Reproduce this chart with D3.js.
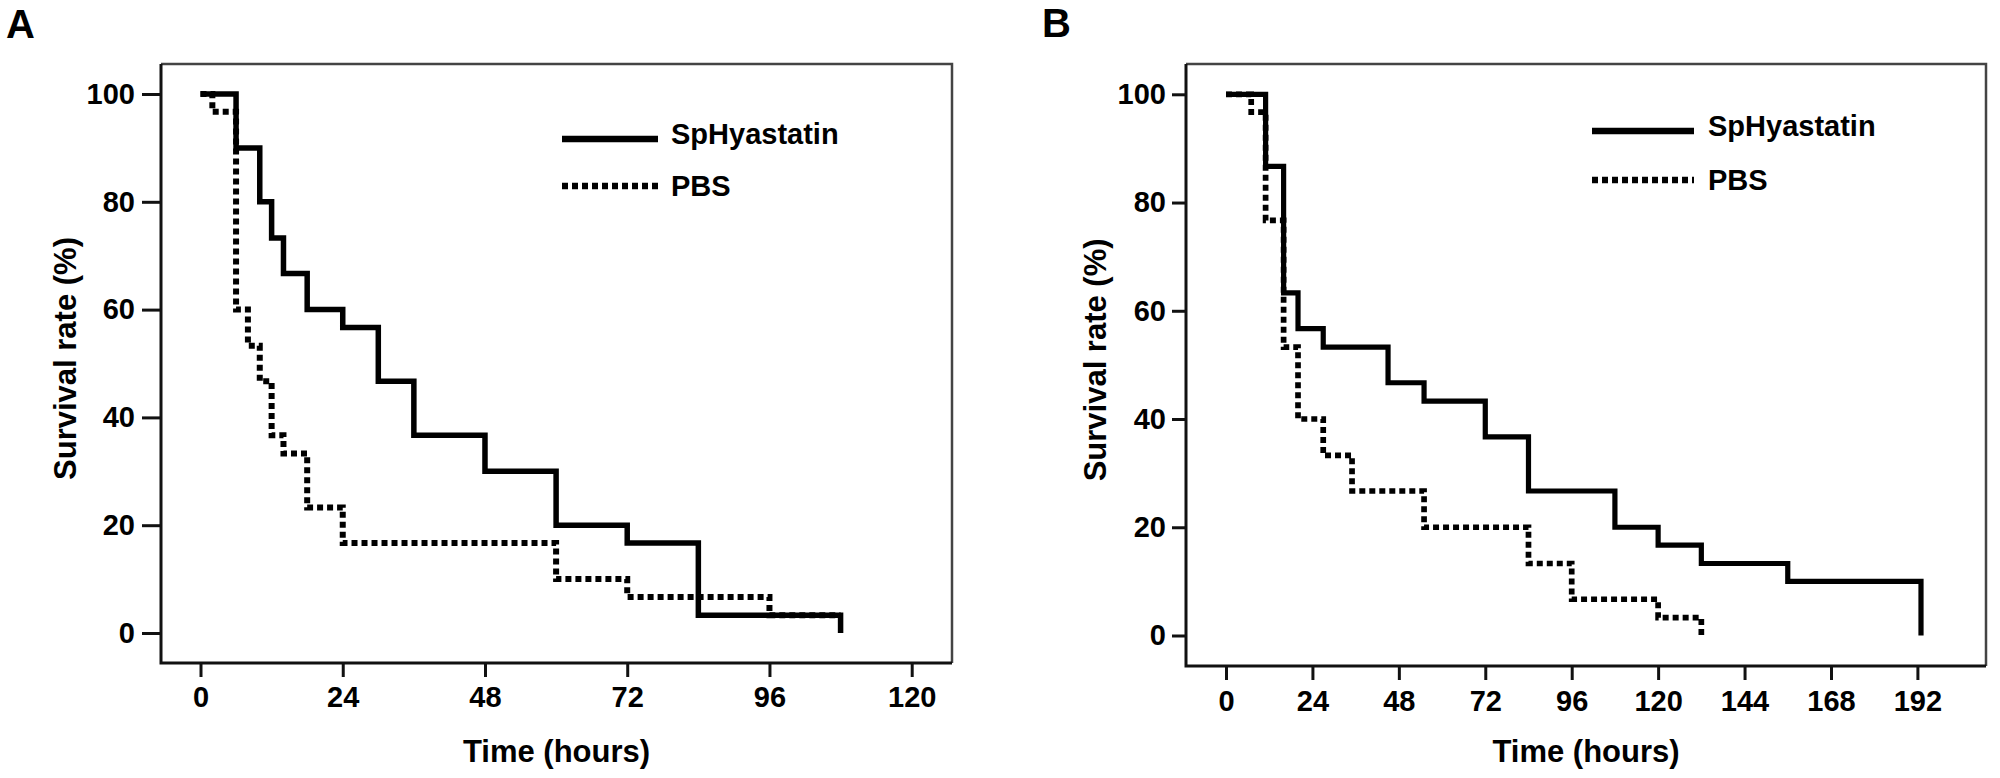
<!DOCTYPE html>
<html>
<head>
<meta charset="utf-8">
<script src="https://cdn.jsdelivr.net/npm/d3@7"></script>
<style>
body { margin: 0; background: #fff; }
text { font-family: "Liberation Sans", Arial, sans-serif; font-weight: bold; fill: #000; }
</style>
</head>
<body>
<svg id="chart" width="2000" height="778"></svg>
<script>
// panel A data (hours, % surviving)
var spTimeA = [0, 6, 10, 12, 14, 18, 24, 30, 36, 48, 60, 72, 84, 108];
var spSurvA = [100, 90, 80, 73.3, 66.7, 60, 56.7, 46.7, 36.7, 30, 20, 16.7, 3.3, 0];
var pbsTimeA = [0, 2, 6, 8, 10, 12, 14, 18, 24, 60, 72, 96, 108];
var pbsSurvA = [100, 96.7, 60, 53.3, 46.7, 36.7, 33.3, 23.3, 16.7, 10, 6.7, 3.3, 3.3];

// panel B data
var spTimeB = [0, 11, 16, 20, 27, 45, 55, 72, 84, 108, 120, 132, 156, 193];
var spSurvB = [100, 86.7, 63.3, 56.7, 53.3, 46.7, 43.3, 36.7, 26.7, 20, 16.7, 13.3, 10, 0];
var pbsTimeB = [0, 7, 11, 16, 20, 27, 35, 55, 84, 96, 120, 132];
var pbsSurvB = [100, 96.7, 76.7, 53.3, 40, 33.3, 26.7, 20, 13.3, 6.7, 3.3, 0];

var xTicksA = [0, 24, 48, 72, 96, 120];
var xTicksB = [0, 24, 48, 72, 96, 120, 144, 168, 192];
var yTicks = [0, 20, 40, 60, 80, 100];
var seriesNames = ["SpHyastatin", "PBS"];

var svg = d3.select("#chart");

// layout of each panel
var panels = [
    {label: "A", labelX: 6, labelY: 38, left: 161, right: 952, top: 64, bottom: 663,
     xr: [200.5, 911.7], xMax: 120, yr: [633, 94], yTickLen: 19, yPad: 7, xPad: 9,
     titleX: 76, legX: 562, legLen: 96, legTextX: 671, legY: [139, 186], legTextY: [144, 196],
     xTicks: xTicksA, sp: [spTimeA, spSurvA], pbs: [pbsTimeA, pbsSurvA], lw: 5.5},
    {label: "B", labelX: 1042, labelY: 37, left: 1186, right: 1986, top: 64, bottom: 666,
     xr: [1226, 1917.4], xMax: 192, yr: [635.5, 94.3], yTickLen: 14, yPad: 6, xPad: 10,
     titleX: 1106, legX: 1592, legLen: 102, legTextX: 1708, legY: [131, 180], legTextY: [136, 190],
     xTicks: xTicksB, sp: [spTimeB, spSurvB], pbs: [pbsTimeB, pbsSurvB], lw: 5.2}
];

panels.forEach(function(p) {
    var g = svg.append("g");
    var x = d3.scaleLinear().domain([0, p.xMax]).range(p.xr);
    var y = d3.scaleLinear().domain([0, 100]).range(p.yr);

    // panel letter
    g.append("text").attr("x", p.labelX).attr("y", p.labelY)
        .text(p.label).style("font-size", "40px");

    // frame
    g.append("path")
        .attr("d", "M" + p.left + "," + p.top + "H" + p.right + "V" + p.bottom)
        .attr("fill", "none").attr("stroke", "#444").attr("stroke-width", 2.5);
    g.append("path")
        .attr("d", "M" + p.left + "," + p.top + "V" + p.bottom + "H" + p.right)
        .attr("fill", "none").attr("stroke", "#111").attr("stroke-width", 3);

    // axes
    var yAxis = g.append("g")
        .attr("transform", "translate(" + p.left + ",0)")
        .call(d3.axisLeft(y).tickValues(yTicks).tickSize(p.yTickLen).tickPadding(p.yPad));
    var xAxis = g.append("g")
        .attr("transform", "translate(0," + p.bottom + ")")
        .call(d3.axisBottom(x).tickValues(p.xTicks).tickSize(14).tickPadding(p.xPad));
    [yAxis, xAxis].forEach(function(a) {
        a.select(".domain").remove();
        a.selectAll(".tick line").attr("stroke", "#111").attr("stroke-width", 3);
        a.selectAll(".tick text")
            .style("font-size", "29px")
            .style("font-family", '"Liberation Sans", Arial, sans-serif')
            .style("font-weight", "bold")
            .attr("fill", "#000");
    });

    // axis titles
    g.append("text")
        .attr("transform", "translate(" + p.titleX + "," + ((p.yr[0] + p.yr[1]) / 2 - 5) + ") rotate(-90)")
        .attr("text-anchor", "middle")
        .style("font-size", "31px")
        .text("Survival rate (%)");
    g.append("text")
        .attr("x", (p.left + p.right) / 2)
        .attr("y", 762)
        .attr("text-anchor", "middle")
        .style("font-size", "31px")
        .text("Time (hours)");

    // survival curves
    var line = d3.line()
        .x(d => x(d[0]))
        .y(d => y(d[1]))
        .curve(d3.curveStepAfter);

    g.append("path")
        .datum(d3.zip(p.pbs[0], p.pbs[1]))
        .attr("d", line)
        .attr("fill", "none")
        .attr("stroke", "#000")
        .attr("stroke-width", p.lw + 0.5)
        .attr("stroke-dasharray", "6,4");

    g.append("path")
        .datum(d3.zip(p.sp[0], p.sp[1]))
        .attr("d", line)
        .attr("fill", "none")
        .attr("stroke", "#000")
        .attr("stroke-width", p.lw);

    // legend
    seriesNames.forEach(function(name, i) {
        g.append("line")
            .attr("x1", p.legX).attr("x2", p.legX + p.legLen)
            .attr("y1", p.legY[i]).attr("y2", p.legY[i])
            .attr("stroke", "#000")
            .attr("stroke-width", 6.5)
            .attr("stroke-dasharray", i == 0 ? null : "6,4");
        g.append("text")
            .attr("x", p.legTextX).attr("y", p.legTextY[i])
            .style("font-size", "29px")
            .text(name);
    });
});
</script>
</body>
</html>
